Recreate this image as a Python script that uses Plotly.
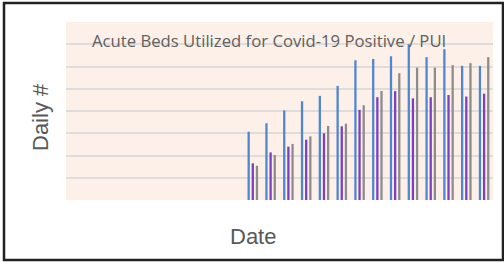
import plotly.graph_objects as go

categories = [f"D{i+1}" for i in range(24)]
n_empty = 10
series_a = [None]*n_empty + [30.7, 34.5, 40.3, 44.4, 46.8, 51.3, 62.8, 63.4, 64.6, 70.0, 64.2, 67.8, 60.3, 60.3]
series_b = [None]*n_empty + [16.5, 21.4, 24.0, 27.1, 30.0, 33.1, 40.5, 46.2, 48.9, 45.7, 46.2, 47.2, 46.5, 47.8]
series_c = [None]*n_empty + [15.4, 20.2, 25.2, 28.6, 33.3, 34.3, 42.6, 49.0, 57.0, 59.5, 59.5, 60.6, 61.5, 64.2]

fig = go.Figure()
fig.add_bar(x=categories, y=series_a, marker_color="#4f86d0", marker_line_width=0, name="A")
fig.add_bar(x=categories, y=series_b, marker_color="#7b3fc0", marker_line_width=0, name="B")
fig.add_bar(x=categories, y=series_c, marker_color="#8c8c8c", marker_line_width=0, name="C")

W, H = 504, 262
L, R, T, B = 66, 11, 22, 62
pw, ph = W - L - R, H - T - B

def px(x):
    return (x - L) / pw

def py(y):
    return (H - B - y) / ph

fig.update_layout(
    width=W, height=H,
    margin=dict(l=L, r=R, t=T, b=B),
    paper_bgcolor="white",
    plot_bgcolor="#fdf0e8",
    showlegend=False,
    barmode="group",
    bargap=0.3,
    bargroupgap=0.45,
    xaxis=dict(showticklabels=False, showgrid=False, zeroline=False, ticks=""),
    yaxis=dict(range=[0, 80], dtick=10, showticklabels=False, showgrid=True,
               gridcolor="#e0dcd9", gridwidth=1.5, zeroline=False, ticks=""),
    annotations=[
        dict(text="Acute Beds Utilized for Covid-19 Positive / PUI", xref="paper", yref="paper",
             x=px(269), y=py(40), xanchor="center", yanchor="middle", showarrow=False,
             font=dict(family="Open Sans", size=16.7, color="#5f5f5f")),
        dict(text="Daily #", xref="paper", yref="paper", x=px(40), y=py(117),
             xanchor="center", yanchor="middle", textangle=-90, showarrow=False,
             font=dict(family="Liberation Sans", size=22, color="#595959")),
        dict(text="Date", xref="paper", yref="paper", x=px(253), y=py(236),
             xanchor="center", yanchor="middle", showarrow=False,
             font=dict(family="Liberation Sans", size=22, color="#595959")),
    ],
    shapes=[
        dict(type="rect", xref="paper", yref="paper", x0=px(4), x1=px(503), y0=py(260), y1=py(3),
             line=dict(color="#222222", width=2.5), fillcolor="rgba(0,0,0,0)", layer="above"),
    ],
)

fig.write_html("out.html", config={"displayModeBar": False},
               post_script="document.body.style.margin='0';document.body.style.padding='0';")
